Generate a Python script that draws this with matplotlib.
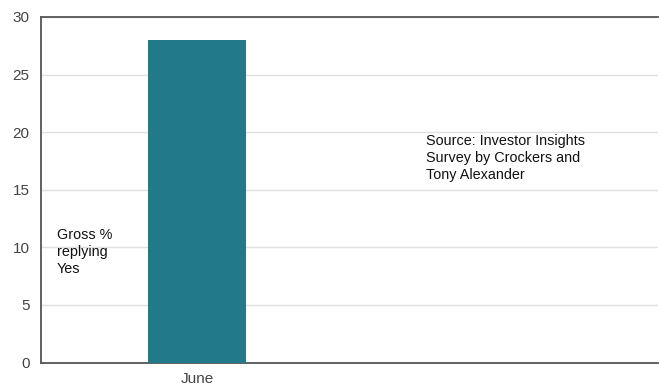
import numpy as np
import matplotlib
matplotlib.use("Agg")
import matplotlib.pyplot as plt

plt.rcParams['font.family'] = ['Liberation Sans', 'DejaVu Sans']

categories = ["June", ""]
values = [28, np.nan]
y_ticks = [0, 5, 10, 15, 20, 25, 30]

fig = plt.figure(figsize=(6.59, 3.85), dpi=100)
ax = fig.add_axes([40.5 / 659, 1 - 362.5 / 385, 617.5 / 659, 345.5 / 385])

x = np.arange(len(categories))
ax.bar(x, values, width=0.316, color="#22798a", zorder=3)

ax.set_xlim(-0.507, len(categories) - 0.507)
ax.set_ylim(0, 30)
ax.set_yticks(y_ticks)
ax.set_xticks(x)
ax.set_xticklabels(categories)
ax.yaxis.grid(True, color="#e0e0e0", linewidth=1.0, zorder=0)
ax.set_axisbelow(True)

for side in ("left", "bottom", "top"):
    ax.spines[side].set_color("#555555")
    ax.spines[side].set_linewidth(1.3)
ax.spines["right"].set_visible(False)

ax.tick_params(axis="both", length=0, labelsize=11, colors="#444444", pad=8)
ax.tick_params(axis="x", pad=6.5)

ax.text(-0.454, 11.7, "Gross %\nreplying\nYes", fontsize=10.4, va="top", ha="left",
        color="#111111", linespacing=1.27)
ax.text(0.742, 19.8, "Source: Investor Insights\nSurvey by Crockers and\nTony Alexander",
        fontsize=10.4, va="top", ha="left", color="#111111", linespacing=1.27)

fig.savefig("out.png", dpi=100)
